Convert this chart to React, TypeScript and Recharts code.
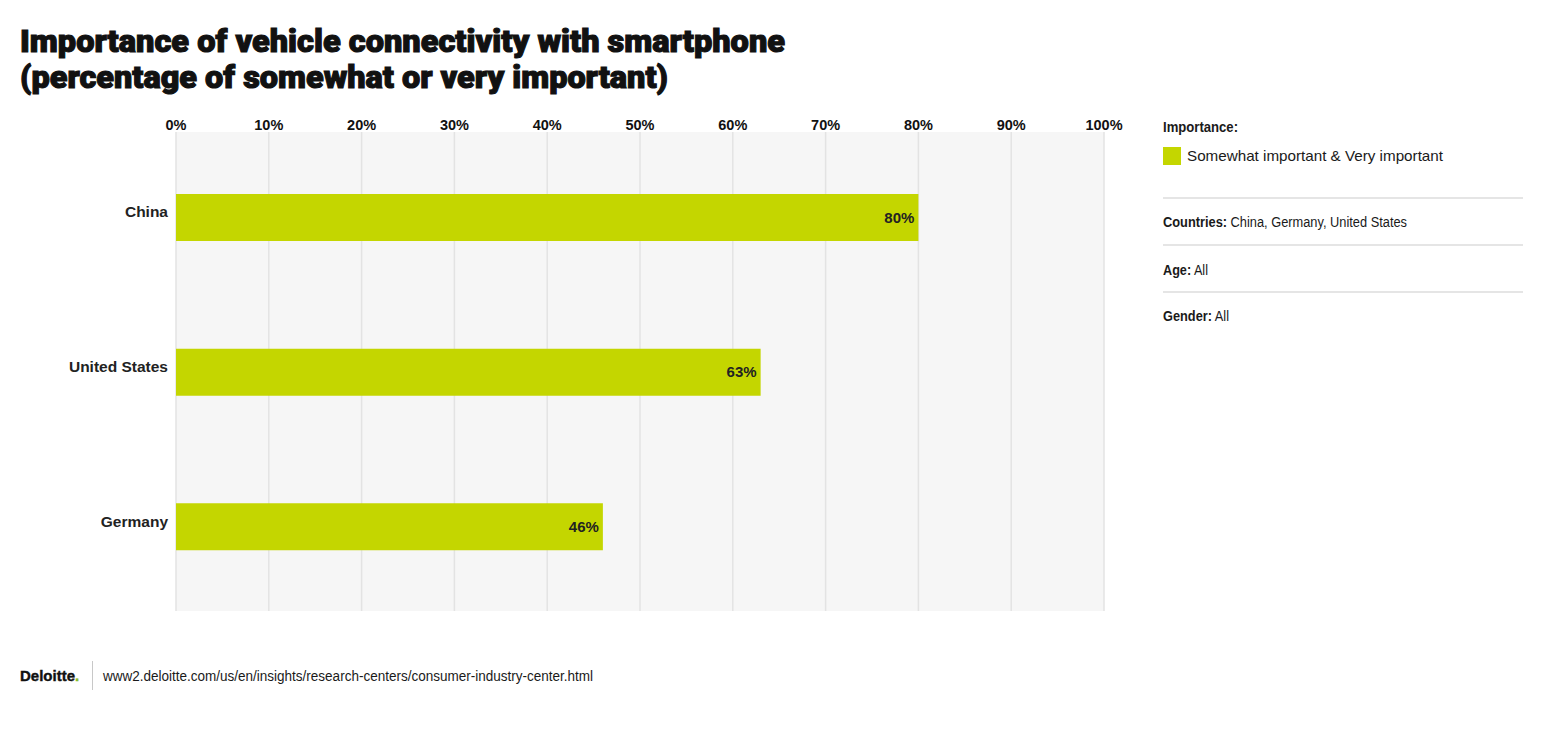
import React from "react";
import { BarChart, Bar, XAxis, YAxis, CartesianGrid, LabelList } from "recharts";

const countries = ["China", "United States", "Germany"];
const values = [80, 63, 46];
const xTicks = [0, 10, 20, 30, 40, 50, 60, 70, 80, 90, 100];
const titleLines = [
  "Importance of vehicle connectivity with smartphone",
  "(percentage of somewhat or very important)",
];
const seriesName = "Somewhat important & Very important";

const data = countries.map((c, i) => ({ country: c, value: values[i] }));

const GREEN = "#c4d600";
const SANS = "'Liberation Sans', Arial, Helvetica, sans-serif";

const XTick = (props: any) => {
  const { x, y, payload } = props;
  return (
    <text x={x} y={y} textAnchor="middle" fontFamily={SANS} fontWeight={700} fontSize={14.5} fill="#111">
      {payload.value}%
    </text>
  );
};

const YTick = (props: any) => {
  const { x, y, payload } = props;
  return (
    <text x={x} y={y} textAnchor="end" fontFamily={SANS} fontWeight={700} fontSize={15.5} fill="#222">
      {payload.value}
    </text>
  );
};

const Meta = ({ y, label, value, len }: { y: number; label: string; value: string; len: number }) => (
  <text x={1163} y={y} fontFamily={SANS} fontSize={14} fill="#1a1a1a" textLength={len} lengthAdjust="spacingAndGlyphs">
    <tspan fontWeight={700}>{label}</tspan> {value}
  </text>
);

export default function App() {
  return (
    <div style={{ position: "absolute", left: 0, top: 0, width: 1544, height: 740, background: "#fff" }}>
      <BarChart
        width={1544}
        height={740}
        data={data}
        layout="vertical"
        margin={{ top: 102, right: 440, bottom: 129, left: 0 }}
      >
        <CartesianGrid horizontal={false} vertical={true} stroke="#e3e3e3" strokeWidth={1.5} fill="#f6f6f6" />
        <XAxis
          type="number"
          orientation="top"
          domain={[0, 100]}
          ticks={xTicks}
          height={30}
          axisLine={false}
          tickLine={false}
          tickSize={0}
          tickMargin={2}
          tick={<XTick />}
          interval={0}
        />
        <YAxis
          type="category"
          dataKey="country"
          width={176}
          axisLine={false}
          tickLine={false}
          tickSize={6}
          tickMargin={2}
          tick={<YTick />}
          padding={{ top: 8, bottom: 7 }}
        />
        <Bar dataKey="value" fill={GREEN} barSize={47} isAnimationActive={false}>
          <LabelList
            dataKey="value"
            position="insideRight"
            offset={4}
            formatter={(v: any) => `${v}%`}
            style={{ fontFamily: SANS, fontWeight: 700, fontSize: 15, fill: "#222" }}
          />
        </Bar>
      </BarChart>
      <svg
        width={1544}
        height={740}
        style={{ position: "absolute", left: 0, top: 0, pointerEvents: "none" }}
      >
        <text x={20} y={52} fontFamily="Roboto, 'Liberation Sans', sans-serif" fontWeight={900} fontSize={31} fill="#111" stroke="#111" strokeWidth={1.1} textLength={765} lengthAdjust="spacingAndGlyphs">
          {titleLines[0]}
        </text>
        <text x={20} y={88} fontFamily="Roboto, 'Liberation Sans', sans-serif" fontWeight={900} fontSize={31} fill="#111" stroke="#111" strokeWidth={1.1} textLength={648} lengthAdjust="spacingAndGlyphs">
          {titleLines[1]}
        </text>

        <text x={1163} y={132} fontFamily={SANS} fontWeight={700} fontSize={14} fill="#1a1a1a" textLength={75} lengthAdjust="spacingAndGlyphs">Importance:</text>
        <rect x={1163} y={147} width={18} height={18} fill={GREEN} />
        <text x={1187} y={161} fontFamily={SANS} fontSize={15} fill="#1a1a1a" textLength={256} lengthAdjust="spacingAndGlyphs">{seriesName}</text>
        <line x1={1163} x2={1523} y1={198} y2={198} stroke="#dcdcdc" strokeWidth={1.5} />
        <Meta y={227} label="Countries:" value="China, Germany, United States" len={244} />
        <line x1={1163} x2={1523} y1={245} y2={245} stroke="#dcdcdc" strokeWidth={1.5} />
        <Meta y={275} label="Age:" value="All" len={45} />
        <line x1={1163} x2={1523} y1={292} y2={292} stroke="#dcdcdc" strokeWidth={1.5} />
        <Meta y={321} label="Gender:" value="All" len={66} />

        <text x={20} y={681} fontFamily={SANS} fontWeight={700} fontSize={15} fill="#111" stroke="#111" strokeWidth={0.4}>
          Deloitte<tspan fill="#86bc25" stroke="#86bc25">.</tspan>
        </text>
        <line x1={92.5} x2={92.5} y1={661} y2={690} stroke="#c8c8c8" strokeWidth={1} />
        <text x={103} y={681} fontFamily={SANS} fontSize={14} fill="#1a1a1a" textLength={490} lengthAdjust="spacingAndGlyphs">
          www2.deloitte.com/us/en/insights/research-centers/consumer-industry-center.html
        </text>
      </svg>
    </div>
  );
}
